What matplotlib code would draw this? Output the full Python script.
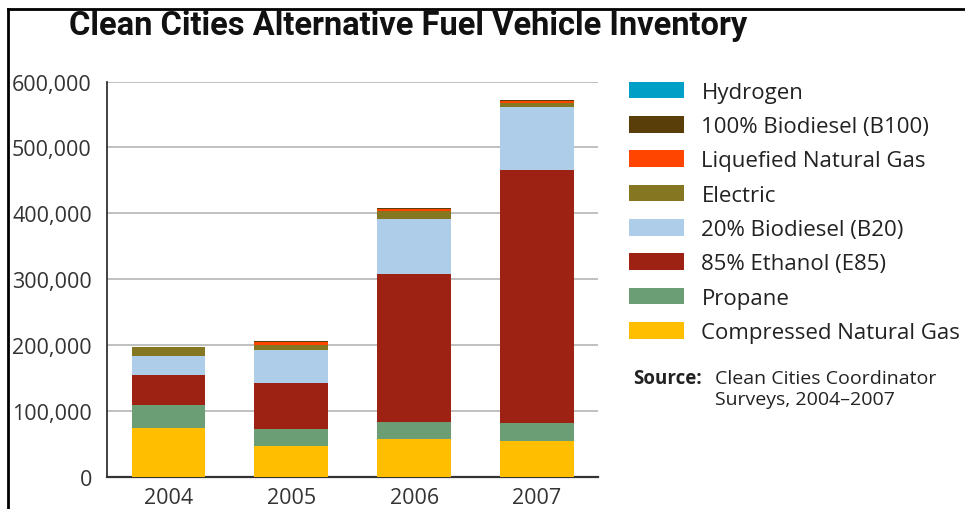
import matplotlib
matplotlib.use("Agg")
import matplotlib.pyplot as plt
from matplotlib.patches import Patch
from matplotlib.lines import Line2D
from matplotlib.ticker import FuncFormatter

# Data (vehicles)
years = ["2004", "2005", "2006", "2007"]
fuels = ["Compressed Natural Gas", "Propane", "85% Ethanol (E85)", "20% Biodiesel (B20)",
         "Electric", "Liquefied Natural Gas", "100% Biodiesel (B100)", "Hydrogen"]
cng = [74000, 47500, 57700, 55000]
propane = [35000, 24500, 26300, 27000]
e85 = [45000, 70000, 224000, 384000]
b20 = [30000, 51000, 83500, 95000]
electric = [13000, 7000, 12500, 6500]
lng = [500, 4500, 3000, 3000]
b100 = [0, 1000, 1000, 1500]
hydrogen = [0, 0, 200, 200]
colors = ["#FFBE00", "#6B9E74", "#9E2214", "#AECDE8",
          "#857622", "#FF4500", "#5A3E0A", "#00A0C6"]

series = [cng, propane, e85, b20, electric, lng, b100, hydrogen]

plt.rcParams['font.family'] = ['Open Sans', 'DejaVu Sans']

fig = plt.figure(figsize=(9.65, 5.1), dpi=100)
ax = fig.add_axes([0.111, 0.063, 0.509, 0.775])

x = list(range(len(years)))
bottom = [0] * len(years)
for vals, col in zip(series, colors):
    ax.bar(x, vals, width=0.6, bottom=bottom, color=col, edgecolor="none", zorder=3)
    bottom = [b + v for b, v in zip(bottom, vals)]

ax.set_xlim(-0.5, 3.5)
ax.set_ylim(0, 600000)
ax.set_yticks(range(0, 600001, 100000))
ax.yaxis.set_major_formatter(FuncFormatter(lambda v, p: f"{int(v):,}"))
ax.set_xticks(x)
ax.set_xticklabels(years)
ax.tick_params(axis="y", length=0, pad=11, labelsize=15.5, labelcolor="#333333")
ax.tick_params(axis="x", length=0, pad=7, labelsize=15.5, labelcolor="#333333")
ax.grid(axis="y", color="#BBBBBB", linewidth=1.3, zorder=0)
for s in ["top", "right"]:
    ax.spines[s].set_visible(False)
ax.spines["left"].set_color("#333333")
ax.spines["bottom"].set_color("#333333")
ax.spines["left"].set_linewidth(1.3)
ax.spines["bottom"].set_linewidth(1.6)

# Legend, top entry first
handles = [Patch(facecolor=c, edgecolor="none") for c in colors][::-1]
leg = ax.legend(handles, fuels[::-1], loc="upper left", bbox_to_anchor=(0.652, 0.838),
                bbox_transform=fig.transFigure, frameon=False, fontsize=16,
                handlelength=2.48, handleheight=0.77, handletextpad=0.77,
                labelspacing=0.6, borderpad=0, borderaxespad=0)
for t in leg.get_texts():
    t.set_color("#222222")

fig.text(0.656, 0.248, "Source:", fontsize=13.5, fontweight="bold", color="#222222")
fig.text(0.741, 0.248, "Clean Cities Coordinator", fontsize=14, color="#222222")
fig.text(0.741, 0.206, "Surveys, 2004\u20132007", fontsize=14, color="#222222")

fig.text(0.072, 0.949, "Clean Cities Alternative Fuel Vehicle Inventory",
         fontsize=23.5, fontweight="bold", family=["Roboto", "DejaVu Sans"],
         va="center", color="#111111")

# Frame lines at top and left of the picture
fig.add_artist(Line2D([0.0085, 0.0085], [0, 0.98], color="black", linewidth=2,
                      transform=fig.transFigure))
fig.add_artist(Line2D([0.0085, 1], [0.98, 0.98], color="black", linewidth=2,
                      transform=fig.transFigure))

fig.savefig("out.png", dpi=100, facecolor="white")
